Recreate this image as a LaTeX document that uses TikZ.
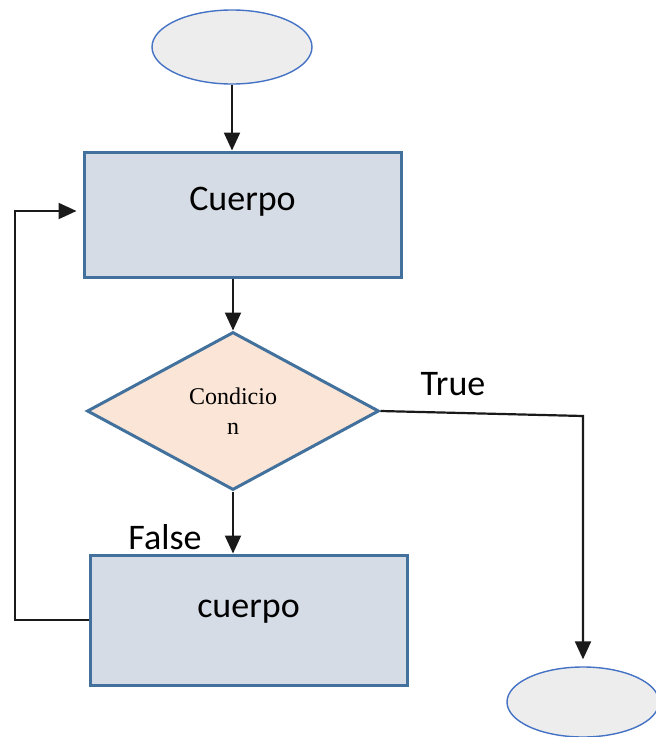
\documentclass[tikz,border=0pt]{standalone}
\usepackage{fontspec}
\setmainfont{Carlito}
\newfontfamily\condfont{Liberation Serif}
\usetikzlibrary{shapes.geometric,arrows.meta}

\definecolor{borde}{HTML}{41719C}
\definecolor{bordeoval}{HTML}{4472C4}
\definecolor{relleno}{HTML}{EDEDED}
\definecolor{cajas}{HTML}{D6DCE5}
\definecolor{rombo}{HTML}{FBE5D6}
\definecolor{linea}{HTML}{1A1A1A}

\begin{document}
\begin{tikzpicture}[x=1pt,y=-1pt,
  % ovals, process boxes and the decision
  terminal/.style={ellipse, draw=bordeoval, line width=1.4pt, fill=relleno,
    minimum width=160pt, minimum height=74pt},
  proceso/.style={rectangle, draw=borde, line width=3pt, fill=cajas,
    minimum width=317pt, inner sep=0pt},
  decision/.style={diamond, draw=borde, line width=3pt, fill=rombo, aspect=1.85,
    minimum width=292pt, minimum height=158pt, inner sep=0pt},
  flecha/.style={line width=2.2pt, draw=linea, -{Triangle[width=16pt,length=18pt]}},
  texto/.style={font=\fontsize{36}{43}\selectfont}
  ]
  \useasboundingbox (0,0) rectangle (656,737);
  \clip (0,0) rectangle (656,737);

  \node[terminal] (inicio) at (232,47) {};
  \node[proceso, minimum height=125pt,
    label={[texto,yshift=12.5pt]center:Cuerpo}] (cuerpo1) at (242.5,214.5) {};
  \node[decision, align=center, font=\condfont\fontsize{24}{30}\selectfont]
    (cond) at (233,411) {Condicio\\n};
  \node[proceso, minimum height=130pt,
    label={[texto,yshift=8pt]center:cuerpo}] (cuerpo2) at (248.5,620) {};
  \node[terminal, minimum width=152pt, minimum height=70pt] (fin) at (583,702) {};

  \node[texto] (true) at (453,384) {True};
  \node[texto] (false) at (165,537) {False};

  \coordinate (giro) at (583,416);
  \coordinate (vuelta) at (15,211);

  \draw[flecha] (inicio.south) -- (inicio.south |- cuerpo1.north);
  \draw[flecha] (cond.north |- cuerpo1.south) -- (cond.north);
  \draw[flecha] (cond.south) -- (cond.south |- cuerpo2.north);
  \draw[flecha, shorten >=7pt] (cond.east) -- (giro) -- (fin.north);
  % back to the first body
  \draw[flecha] (cuerpo2.west) -| (vuelta) -- ([xshift=-6pt]cuerpo1.west |- vuelta);

\end{tikzpicture}
\end{document}
